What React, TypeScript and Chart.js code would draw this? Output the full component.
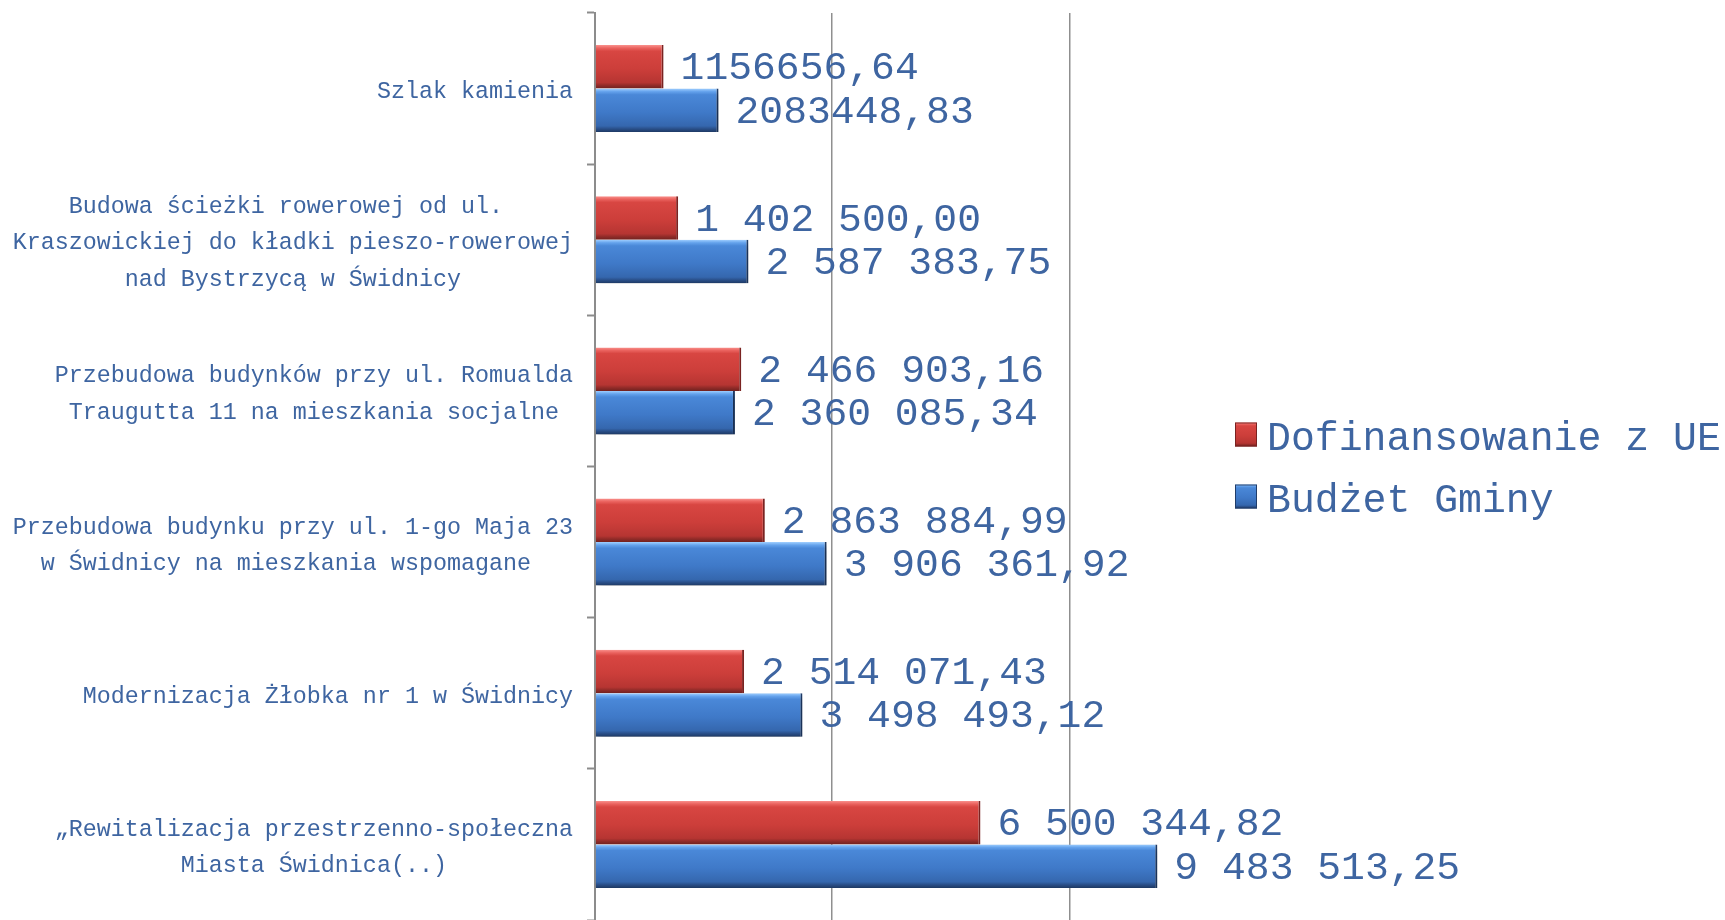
import React, { useEffect, useRef } from "react";
import { Chart, registerables } from "chart.js";

Chart.register(...registerables);

// ---------- data ----------
const categories: (string | string[])[] = [
  "Szlak kamienia",
  [
    "Budowa ścieżki rowerowej od ul.",
    "Kraszowickiej do kładki pieszo-rowerowej",
    "nad Bystrzycą w Świdnicy",
  ],
  ["Przebudowa budynków przy ul. Romualda", "Traugutta 11 na mieszkania socjalne"],
  ["Przebudowa budynku przy ul. 1-go Maja 23", "w Świdnicy na mieszkania wspomagane"],
  "Modernizacja Żłobka nr 1 w Świdnicy",
  ["„Rewitalizacja przestrzenno-społeczna", "Miasta Świdnica(..)"],
];

const seriesNames = ["Dofinansowanie z UE", "Budżet Gminy"];

const euValues = [1156656.64, 1402500.0, 2466903.16, 2863884.99, 2514071.43, 6500344.82];
const budgetValues = [2083448.83, 2587383.75, 2360085.34, 3906361.92, 3498493.12, 9483513.25];

const euLabels = [
  "1156656,64",
  "1 402 500,00",
  "2 466 903,16",
  "2 863 884,99",
  "2 514 071,43",
  "6 500 344,82",
];
const budgetLabels = [
  "2083448,83",
  "2 587 383,75",
  "2 360 085,34",
  "3 906 361,92",
  "3 498 493,12",
  "9 483 513,25",
];

const xTicks = [0, 4000000, 8000000];
const xMax = 10000000;

// ---------- styles ----------
const TEXT_COLOR = "#3e65a1";
const FONT = "'Liberation Mono', 'DejaVu Sans Mono', monospace";
const GRID_COLOR = "#8f8f8f";

const RED_STOPS: [number, string][] = [
  [0, "#f9908c"],
  [0.07, "#ea625e"],
  [0.14, "#d84642"],
  [0.55, "#cc3e3a"],
  [0.86, "#b63532"],
  [0.93, "#902b28"],
  [1, "#70211f"],
];
const BLUE_STOPS: [number, string][] = [
  [0, "#a0cfff"],
  [0.07, "#64a2ec"],
  [0.14, "#4a88d8"],
  [0.55, "#3f79c8"],
  [0.86, "#3567ae"],
  [0.93, "#294e87"],
  [1, "#1e3964"],
];

function makeGradient(ctx: CanvasRenderingContext2D, top: number, bottom: number, stops: [number, string][]) {
  const g = ctx.createLinearGradient(0, top, 0, bottom);
  stops.forEach(([o, c]) => g.addColorStop(o, c));
  return g;
}

// centre the lines of a multi-line label inside its right-aligned block (monospace font)
function centerLines(label: string | string[]): string | string[] {
  if (!Array.isArray(label)) return label;
  const w = Math.max(...label.map((l) => l.length));
  return label.map((l) => l + " ".repeat(Math.round((w - l.length) / 2)));
}

const shadingPlugin = {
  id: "shading",
  beforeDatasetsDraw(chart: any) {
    const ctx = chart.ctx as CanvasRenderingContext2D;
    chart.data.datasets.forEach((_ds: any, di: number) => {
      const meta = chart.getDatasetMeta(di);
      const stops = di === 0 ? RED_STOPS : BLUE_STOPS;
      meta.data.forEach((el: any) => {
        const { y, height } = el.getProps(["y", "height"], true);
        const top = y - height / 2;
        el.options = { ...el.options, backgroundColor: makeGradient(ctx, top, top + height, stops) };
      });
    });
  },
  beforeDatasetDraw(chart: any, args: any) {
    const ctx = chart.ctx as CanvasRenderingContext2D;
    ctx.save();
    if (args.index === 1) {
      ctx.shadowColor = "rgba(0,0,0,0.35)";
      ctx.shadowBlur = 7;
      ctx.shadowOffsetX = 2;
      ctx.shadowOffsetY = 4;
    }
  },
  afterDatasetDraw(chart: any) {
    chart.ctx.restore();
  },
  afterDatasetsDraw(chart: any) {
    const ctx = chart.ctx as CanvasRenderingContext2D;
    const allLabels = [euLabels, budgetLabels];
    ctx.save();
    ctx.font = `39.7px ${FONT}`;
    ctx.fillStyle = TEXT_COLOR;
    ctx.textAlign = "left";
    ctx.textBaseline = "middle";
    chart.data.datasets.forEach((_ds: any, di: number) => {
      const meta = chart.getDatasetMeta(di);
      meta.data.forEach((el: any, i: number) => {
        const { x, y } = el.getProps(["x", "y"], true);
        ctx.fillText(allLabels[di][i], x + 17, y + 2);
      });
    });
    ctx.restore();
  },
  afterDraw(chart: any) {
    const ctx = chart.ctx as CanvasRenderingContext2D;
    const area = chart.chartArea;
    const cy = (area.top + area.bottom) / 2;
    const boxX = area.right + 47;
    const rows = [cy - 32, cy + 30];
    ctx.save();
    ctx.font = `39.8px ${FONT}`;
    ctx.textAlign = "left";
    ctx.textBaseline = "middle";
    rows.forEach((ry, i) => {
      const stops = i === 0 ? RED_STOPS : BLUE_STOPS;
      const bw = 22;
      const bh = 24;
      ctx.fillStyle = makeGradient(ctx, ry - bh / 2, ry + bh / 2, stops);
      ctx.fillRect(boxX, ry - bh / 2, bw, bh);
      ctx.strokeStyle = i === 0 ? "#7a2321" : "#203d6a";
      ctx.lineWidth = 1;
      ctx.strokeRect(boxX + 0.5, ry - bh / 2 + 0.5, bw - 1, bh - 1);
      ctx.fillStyle = TEXT_COLOR;
      ctx.fillText(seriesNames[i], boxX + 32, ry + 5);
    });
    ctx.restore();
  },
};

export default function App() {
  const ref = useRef<HTMLCanvasElement | null>(null);

  useEffect(() => {
    if (!ref.current) return;
    const chart = new Chart(ref.current, {
      type: "bar",
      data: {
        labels: categories.map(centerLines),
        datasets: [
          {
            label: seriesNames[0],
            data: euValues,
            backgroundColor: "#d04040",
            borderColor: "#7a2321",
            borderWidth: { top: 0, right: 2, bottom: 0, left: 0 },
            borderSkipped: false,
            categoryPercentage: 0.575,
            barPercentage: 1,
          },
          {
            label: seriesNames[1],
            data: budgetValues,
            backgroundColor: "#3f79c8",
            borderColor: "#203d6a",
            borderWidth: { top: 0, right: 2, bottom: 0, left: 0 },
            borderSkipped: false,
            categoryPercentage: 0.575,
            barPercentage: 1,
          },
        ],
      },
      options: {
        indexAxis: "y",
        responsive: false,
        animation: false,
        events: [],
        layout: { padding: { top: 13, right: 537, bottom: 0, left: 0 } },
        plugins: {
          legend: { display: false },
          tooltip: { enabled: false },
        },
        scales: {
          x: {
            type: "linear",
            min: 0,
            max: xMax,
            afterBuildTicks: (s: any) => {
              s.ticks = xTicks.map((v) => ({ value: v }));
            },
            afterFit: (s: any) => {
              s.height = 0;
              s.paddingLeft = 0;
              s.paddingRight = 0;
            },
            ticks: { display: false },
            grid: {
              color: (c: any) => (c.tick && c.tick.value > 0 ? GRID_COLOR : "rgba(0,0,0,0)"),
              lineWidth: 1.5,
              drawTicks: false,
            },
            border: { display: false },
          },
          y: {
            type: "category",
            afterFit: (s: any) => {
              s.width = 595;
              s.paddingTop = 0;
              s.paddingBottom = 0;
            },
            grid: {
              drawOnChartArea: false,
              drawTicks: true,
              tickLength: 8,
              tickColor: "#8c8c8c",
              tickWidth: 2,
              offset: true,
            },
            border: { display: true, color: "#8c8c8c", width: 2 },
            ticks: {
              autoSkip: false,
              padding: 14,
              labelOffset: 3.5,
              color: TEXT_COLOR,
              font: { family: FONT, size: 23.35, lineHeight: 1.56 },
            },
          },
        },
      },
      plugins: [shadingPlugin],
    } as any);
    return () => chart.destroy();
  }, []);

  return (
    <div style={{ position: "fixed", left: 0, top: 0, width: 1725, height: 920, background: "#ffffff" }}>
      <canvas ref={ref} width={1725} height={920} style={{ display: "block" }} />
    </div>
  );
}
